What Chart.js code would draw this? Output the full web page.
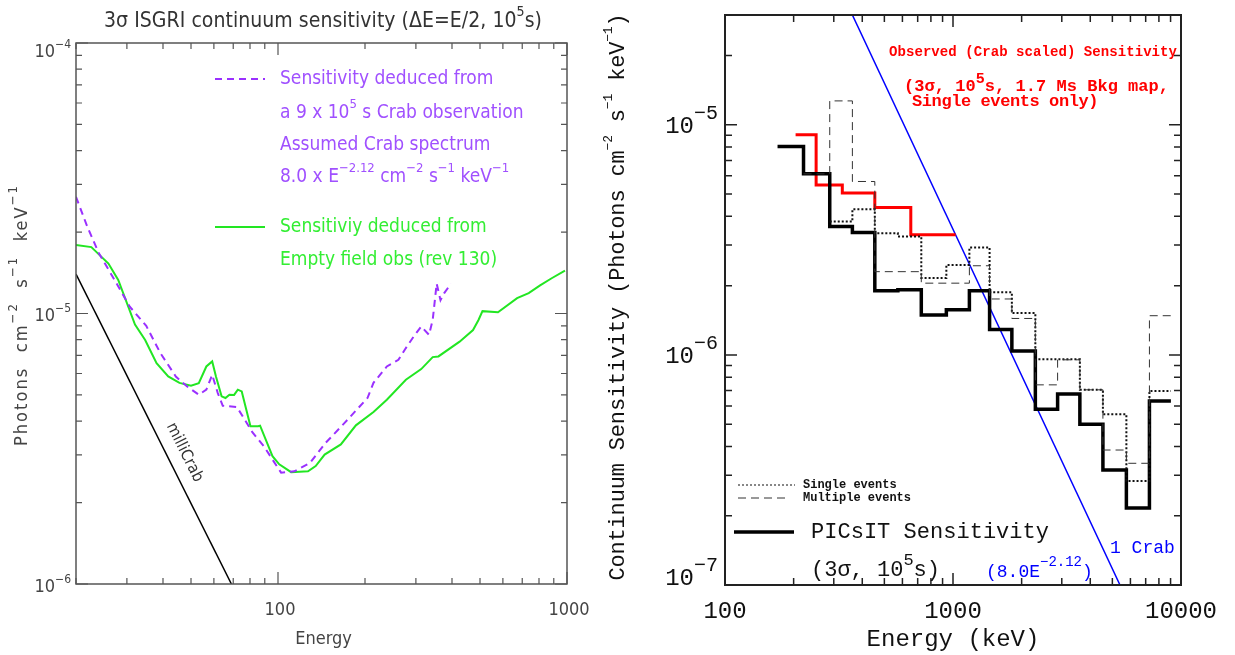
<!DOCTYPE html>
<html>
<head>
<meta charset="utf-8">
<script src="https://cdn.jsdelivr.net/npm/chart.js@4.4.1/dist/chart.umd.min.js"></script>
<style>
  html, body { margin: 0; padding: 0; background: #fff; }
  #wrap { position: relative; width: 1235px; height: 655px; overflow: hidden; }
  #isgri { position: absolute; left: 0; top: 0; }
  #picsit { position: absolute; left: 600px; top: 0; }
</style>
</head>
<body>
<div id="wrap">
  <canvas id="isgri" width="600" height="655"></canvas>
  <canvas id="picsit" width="635" height="655"></canvas>
</div>
<script>
// ---- left panel: ISGRI (energy keV, flux ph/cm2/s/keV) ----
const milliCrabE = [20, 69];
const milliCrabF = [1.4e-5, 1.0e-6];

const crabObsE = [20, 21.9, 24.0, 27.2, 30.7, 35.0, 39.2, 44.3, 48.5, 53.2, 56.5, 59.2, 61.9, 64.4, 72.1, 76.7, 81.5, 89.3,
  102.5, 114, 129, 146, 170, 204, 214, 238, 261, 277, 295, 313, 333, 343, 354, 365, 376, 397];
const crabObsF = [2.70e-5, 2.09e-5, 1.67e-5, 1.33e-5, 1.06e-5, 9.0e-6, 7.13e-6, 5.85e-6, 5.37e-6, 5.01e-6, 5.23e-6, 5.93e-6,
  5.08e-6, 4.56e-6, 4.51e-6, 4.05e-6, 3.64e-6, 3.23e-6, 2.58e-6, 2.61e-6, 2.80e-6, 3.32e-6, 3.94e-6, 4.87e-6, 5.54e-6,
  6.37e-6, 6.74e-6, 7.45e-6, 8.23e-6, 8.95e-6, 8.34e-6, 9.46e-6, 1.29e-5, 1.12e-5, 1.19e-5, 1.29e-5];

const emptyFieldE = [20, 22.6, 25.9, 28.0, 32.0, 34.7, 38.0, 41.7, 45.6, 50.0, 53.2, 56.5, 59.2, 61.0, 63.8, 65.8, 67.9, 70.5,
  72.6, 74.9, 80.3, 85.4, 86.7, 95.7, 101, 111, 127, 135, 145, 165, 186, 214, 238, 277, 313, 343, 359, 425, 473, 494,
  510, 577, 672, 737, 807, 885, 984];
const emptyFieldF = [1.79e-5, 1.76e-5, 1.53e-5, 1.33e-5, 9.1e-6, 7.98e-6, 6.55e-6, 5.85e-6, 5.54e-6, 5.41e-6, 5.53e-6, 6.37e-6,
  6.65e-6, 5.85e-6, 4.94e-6, 4.87e-6, 5.01e-6, 5.0e-6, 5.23e-6, 5.15e-6, 3.83e-6, 3.83e-6, 3.85e-6, 2.97e-6, 2.77e-6,
  2.59e-6, 2.61e-6, 2.73e-6, 3.01e-6, 3.28e-6, 3.86e-6, 4.32e-6, 4.80e-6, 5.69e-6, 6.23e-6, 6.90e-6, 6.94e-6, 7.87e-6,
  8.69e-6, 9.46e-6, 1.02e-5, 1.01e-5, 1.14e-5, 1.19e-5, 1.27e-5, 1.35e-5, 1.44e-5];

const isgriXTicks = ['100', '1000'];

// ---- right panel: PICsIT (bin edges keV, flux per bin) ----
const binEdges = [170, 221, 288, 362, 454, 573, 726, 935, 1180, 1447, 1812, 2297, 2876, 3601, 4545, 5760, 7270, 9030];
const picsitF = [8.05e-6, 6.12e-6, 3.61e-6, 3.40e-6, 1.90e-6, 1.92e-6, 1.49e-6, 1.57e-6, 1.90e-6, 1.29e-6, 1.04e-6,
  5.81e-7, 6.77e-7, 5.00e-7, 3.16e-7, 2.16e-7, 6.31e-7];
const singleF = [null, null, 3.80e-6, 4.30e-6, 3.38e-6, 3.27e-6, 2.16e-6, 2.46e-6, 2.93e-6, 1.87e-6, 1.52e-6,
  9.58e-7, 9.58e-7, 7.05e-7, 5.52e-7, 2.83e-7, 6.97e-7];
const multipleF = [null, 6.12e-6, 1.27e-5, 5.67e-6, 2.30e-6, 2.30e-6, 2.05e-6, 2.05e-6, 2.44e-6, 1.75e-6, 1.44e-6,
  7.41e-7, 9.52e-7, 7.05e-7, 3.86e-7, 3.38e-7, 1.48e-6];
const observedEdges = [204, 251, 327, 454, 653, 1027];
const observedF = [9.05e-6, 5.48e-6, 5.05e-6, 4.37e-6, 3.33e-6];
const oneCrabE = [362, 5400];
const oneCrabF = [3.0e-5, 1.0e-7];

const picsitXTicks = ['100', '1000', '10000'];

const LEFT_FONT = '"Liberation Sans Narrow", "DejaVu Sans Condensed", "Liberation Sans", sans-serif';
const RIGHT_FONT = '"Liberation Mono", "DejaVu Sans Mono", monospace';

function pts(xs, ys) {
  return xs.map((x, i) => ({ x, y: ys[i] }));
}

// bins -> points for a stepped line (horizontal first, then vertical)
function steps(edges, vals) {
  const out = vals.map((v, i) => ({ x: edges[i], y: v }));
  out.push({ x: edges[vals.length], y: vals[vals.length - 1] });
  return out;
}

function logTicks(min, max) {
  const out = [];
  for (let e = Math.floor(Math.log10(min)); e <= Math.ceil(Math.log10(max)); e++) {
    for (let k = 1; k < 10; k++) {
      const v = k * Math.pow(10, e);
      if (v >= min * 0.999 && v <= max * 1.001) out.push({ v, major: k === 1 });
    }
  }
  return out;
}

// parts: strings, a leading '^' marks a superscript
function drawParts(ctx, parts, x, y, o) {
  ctx.save();
  ctx.fillStyle = o.color || '#000';
  ctx.textBaseline = 'middle';
  ctx.textAlign = 'left';
  const wt = o.weight || 'normal';
  const font = p => wt + ' ' + (p[0] === '^' ? o.sup : o.size) + 'px ' + o.family;
  const txt = p => p[0] === '^' ? p.slice(1) : p;
  const measure = () => parts.reduce((s, p) => { ctx.font = font(p); return s + ctx.measureText(txt(p)).width; }, 0);
  let w = measure();
  if (o.width) {
    const n = parts.reduce((s, p) => s + txt(p).length, 0);
    ctx.letterSpacing = ((o.width - w) / n).toFixed(2) + 'px';
    w = measure();
  }
  let cx = o.align === 'center' ? x - w / 2 : o.align === 'right' ? x - w : x;
  for (const p of parts) {
    ctx.font = font(p);
    const sup = p[0] === '^';
    ctx.fillText(txt(p), cx, sup ? y - o.size * (o.rise || 0.45) : y);
    cx += ctx.measureText(txt(p)).width;
  }
  ctx.restore();
}

function drawFrame(chart, o) {
  const { ctx, chartArea: a, scales: { x, y } } = chart;
  ctx.save();
  ctx.strokeStyle = o.color;
  ctx.lineWidth = o.width;
  ctx.strokeRect(a.left, a.top, a.right - a.left, a.bottom - a.top);
  ctx.lineWidth = o.tickWidth;
  ctx.beginPath();
  for (const t of logTicks(x.min, x.max)) {
    const px = x.getPixelForValue(t.v), len = t.major ? o.major : o.minor;
    ctx.moveTo(px, a.bottom); ctx.lineTo(px, a.bottom - len);
    ctx.moveTo(px, a.top); ctx.lineTo(px, a.top + len);
  }
  for (const t of logTicks(y.min, y.max)) {
    const py = y.getPixelForValue(t.v), len = t.major ? o.major : o.minor;
    ctx.moveTo(a.left, py); ctx.lineTo(a.left + len, py);
    ctx.moveTo(a.right, py); ctx.lineTo(a.right - len, py);
  }
  ctx.stroke();
  ctx.restore();
}

function sample(ctx, x0, x1, y, color, width, dash) {
  ctx.save();
  ctx.strokeStyle = color;
  ctx.lineWidth = width;
  ctx.setLineDash(dash || []);
  ctx.beginPath();
  ctx.moveTo(x0, y); ctx.lineTo(x1, y);
  ctx.stroke();
  ctx.restore();
}

const isgriDecor = {
  id: 'isgriDecor',
  afterDraw(chart) {
    const { ctx, chartArea: a, scales: { x, y } } = chart;
    drawFrame(chart, { color: '#555', width: 1.5, tickWidth: 1.2, major: 12, minor: 6 });
    const L = { family: LEFT_FONT, size: 18, sup: 12, color: '#444' };

    // y tick labels
    [1e-4, 1e-5, 1e-6].forEach((v, i) => {
      const py = Math.max(y.getPixelForValue(v) + 3, a.top + 9);
      drawParts(ctx, ['10', '^−' + (4 + i)], a.left - 5, py, { ...L, align: 'right', rise: 0.4 });
    });
    isgriXTicks.forEach(t => {
      drawParts(ctx, [t], x.getPixelForValue(+t) + 2, a.bottom + 26, { ...L, align: 'center' });
    });
    drawParts(ctx, ['Energy'], (a.left + a.right) / 2 + 2, 639, { ...L, align: 'center' });

    // title
    drawParts(ctx, ['3σ ISGRI continuum sensitivity (ΔE=E/2, 10', '^5', 's)'], 323, 22,
      { family: LEFT_FONT, size: 21, sup: 14, color: '#333', align: 'center', width: 438 });

    // y title
    ctx.save();
    ctx.translate(22, 315);
    ctx.rotate(-Math.PI / 2);
    drawParts(ctx, ['Photons  cm', '^−2', '  s', '^−1', '  keV', '^−1'], 0, 0,
      { ...L, size: 18, sup: 13, align: 'center', width: 262 });
    ctx.restore();

    // legend
    const purple = '#a050ff', green = '#33ee33';
    const P = { family: LEFT_FONT, size: 19, sup: 13, color: purple };
    sample(ctx, 215, 265, 79, '#9a30ff', 2, [7, 5]);
    drawParts(ctx, ['Sensitivity deduced from'], 280, 79, P);
    drawParts(ctx, ['a 9 x 10', '^5', ' s Crab observation'], 280, 113, P);
    drawParts(ctx, ['Assumed Crab spectrum'], 280, 145, P);
    drawParts(ctx, ['8.0 x E', '^−2.12', ' cm', '^−2', ' s', '^−1', ' keV', '^−1'], 280, 177, P);
    sample(ctx, 215, 265, 227, '#22e622', 2);
    drawParts(ctx, ['Sensitiviy deduced from'], 280, 227, { ...P, color: green });
    drawParts(ctx, ['Empty field obs (rev 130)'], 280, 260, { ...P, color: green });

    // milliCrab label along the black line
    const x0 = x.getPixelForValue(milliCrabE[0]), y0 = y.getPixelForValue(milliCrabF[0]);
    const x1 = x.getPixelForValue(milliCrabE[1]), y1 = y.getPixelForValue(milliCrabF[1]);
    const ang = Math.atan2(y1 - y0, x1 - x0);
    const t = 0.6;
    const cx = x0 + t * (x1 - x0) + 17 * Math.sin(ang);
    const cy = y0 + t * (y1 - y0) - 17 * Math.cos(ang);
    ctx.save();
    ctx.translate(cx, cy);
    ctx.rotate(ang);
    drawParts(ctx, ['milliCrab'], 0, 0, { family: LEFT_FONT, size: 16, sup: 12, color: '#333', align: 'center' });
    ctx.restore();
  }
};

const picsitDecor = {
  id: 'picsitDecor',
  afterDraw(chart) {
    const { ctx, chartArea: a, scales: { x, y } } = chart;
    drawFrame(chart, { color: '#222', width: 2, tickWidth: 1.5, major: 12, minor: 7 });
    const R = { family: RIGHT_FONT, size: 24, sup: 20, color: '#111' };
    const off = 600; // canvas left on page

    [1e-5, 1e-6, 1e-7].forEach((v, i) => {
      drawParts(ctx, ['10', '^−' + (5 + i)], a.left - 7, y.getPixelForValue(v) + (i === 2 ? -6 : 2),
        { ...R, align: 'right', rise: 0.55 });
    });
    picsitXTicks.forEach(t => {
      drawParts(ctx, [t], x.getPixelForValue(+t), a.bottom + 27, { ...R, align: 'center' });
    });
    drawParts(ctx, ['Energy (keV)'], (a.left + a.right) / 2, 640, { ...R, align: 'center' });

    ctx.save();
    ctx.translate(618 - off, 297);
    ctx.rotate(-Math.PI / 2);
    drawParts(ctx, ['Continuum Sensitivity (Photons cm', '^−2', ' s', '^−1', ' keV', '^−1', ')'], 0, 0,
      { ...R, size: 22, sup: 13, align: 'center', width: 567 });
    ctx.restore();

    // red annotation
    const red = '#ff0000';
    drawParts(ctx, ['Observed (Crab scaled) Sensitivity'], 889 - off, 52,
      { family: RIGHT_FONT, weight: 'bold', size: 14, sup: 10, color: red, width: 288 });
    drawParts(ctx, ['(3σ, 10', '^5', 's, 1.7 Ms Bkg map,'], 904 - off, 87,
      { family: RIGHT_FONT, weight: 'bold', size: 17, sup: 15, color: red, width: 265 });
    drawParts(ctx, ['Single events only)'], 912 - off, 102,
      { family: RIGHT_FONT, weight: 'bold', size: 17, sup: 13, color: red, width: 186 });

    // legend
    sample(ctx, 738 - off, 795 - off, 485, '#111', 1.2, [2, 2]);
    drawParts(ctx, ['Single events'], 803 - off, 485, { family: RIGHT_FONT, weight: 'bold', size: 12, sup: 9, color: '#111' });
    sample(ctx, 738 - off, 790 - off, 498, '#333', 1, [8, 5]);
    drawParts(ctx, ['Multiple events'], 803 - off, 498, { family: RIGHT_FONT, weight: 'bold', size: 12, sup: 9, color: '#111' });
    sample(ctx, 734 - off, 794 - off, 532, '#000', 3.5);
    drawParts(ctx, ['PICsIT Sensitivity'], 811 - off, 532, { ...R, size: 22, width: 238 });
    drawParts(ctx, ['(3σ, 10', '^5', 's)'], 811 - off, 570, { ...R, size: 22, sup: 17 });

    const blue = '#0000ff';
    drawParts(ctx, ['1 Crab'], 1110 - off, 548, { family: RIGHT_FONT, size: 18, sup: 13, color: blue });
    drawParts(ctx, ['(8.0E', '^−2.12', ')'], 986 - off, 572, { family: RIGHT_FONT, size: 18, sup: 14, color: blue, rise: 0.55 });
  }
};

new Chart(document.getElementById('isgri'), {
  type: 'line',
  data: {
    datasets: [
      { data: pts(milliCrabE, milliCrabF), borderColor: '#000', borderWidth: 1.5, pointRadius: 0 },
      { data: pts(crabObsE, crabObsF), borderColor: '#9a30ff', borderWidth: 2, borderDash: [7, 5], pointRadius: 0 },
      { data: pts(emptyFieldE, emptyFieldF), borderColor: '#22e622', borderWidth: 2, pointRadius: 0 }
    ]
  },
  options: {
    responsive: false,
    animation: false,
    layout: { padding: { left: 76, right: 33, top: 43, bottom: 71 } },
    elements: { line: { tension: 0 } },
    plugins: { legend: { display: false }, tooltip: { enabled: false } },
    scales: {
      x: { type: 'logarithmic', min: 20, max: 1000, display: false },
      y: { type: 'logarithmic', min: 1e-6, max: 1e-4, display: false }
    }
  },
  plugins: [isgriDecor]
});

new Chart(document.getElementById('picsit'), {
  type: 'line',
  data: {
    datasets: [
      { data: steps(binEdges, multipleF), stepped: 'before', borderColor: '#333', borderWidth: 1, borderDash: [8, 5], pointRadius: 0 },
      { data: steps(binEdges, singleF), stepped: 'before', borderColor: '#111', borderWidth: 2, borderDash: [2, 2], pointRadius: 0 },
      { data: steps(binEdges, picsitF), stepped: 'before', borderColor: '#000', borderWidth: 3.5, pointRadius: 0 },
      { data: steps(observedEdges, observedF), stepped: 'before', borderColor: '#ff0000', borderWidth: 3, pointRadius: 0 },
      { data: pts(oneCrabE, oneCrabF), borderColor: '#0000ff', borderWidth: 1.5, pointRadius: 0 }
    ]
  },
  options: {
    responsive: false,
    animation: false,
    layout: { padding: { left: 125, right: 54, top: 15, bottom: 70 } },
    elements: { line: { tension: 0 } },
    plugins: { legend: { display: false }, tooltip: { enabled: false } },
    scales: {
      x: { type: 'logarithmic', min: 100, max: 10000, display: false },
      y: { type: 'logarithmic', min: 1e-7, max: 3e-5, display: false }
    }
  },
  plugins: [picsitDecor]
});
</script>
</body>
</html>
